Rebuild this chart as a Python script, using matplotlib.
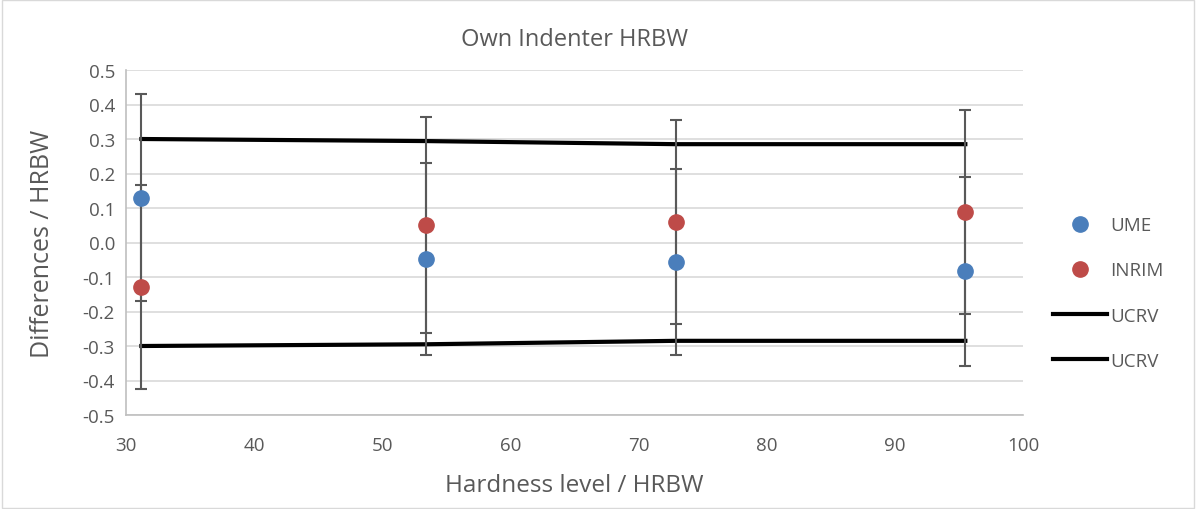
import matplotlib
matplotlib.use("Agg")
import matplotlib.pyplot as plt
from matplotlib.lines import Line2D

plt.rcParams['font.family'] = ['Open Sans', 'DejaVu Sans']

hardness = [31.2, 53.4, 72.9, 95.5]
ume = [0.129, -0.048, -0.057, -0.084]
ume_err = [0.30, 0.278, 0.27, 0.275]
inrim = [-0.129, 0.052, 0.060, 0.088]
inrim_err = [0.295, 0.313, 0.295, 0.295]
ucrv_upper = [0.30, 0.294, 0.285, 0.285]
ucrv_lower = [-0.30, -0.295, -0.285, -0.285]

W, H = 1196, 510
fig = plt.figure(figsize=(W/100, H/100), dpi=100)
ax = fig.add_axes([126/W, 1-416/H, (1023-126)/W, (416-71)/H])

txt = '#595959'
ax.plot(hardness, ucrv_upper, color='black', lw=3, zorder=2)
ax.plot(hardness, ucrv_lower, color='black', lw=3, zorder=2)
ax.errorbar(hardness, ume, yerr=ume_err, fmt='none', ecolor='#595959', elinewidth=1.5, capsize=4.2, capthick=1.5, zorder=3)
ax.errorbar(hardness, inrim, yerr=inrim_err, fmt='none', ecolor='#595959', elinewidth=1.5, capsize=4.2, capthick=1.5, zorder=3)
ax.plot(hardness, ume, 'o', color='#4a7ebb', ms=11, zorder=4)
ax.plot(hardness, inrim, 'o', color='#be4b48', ms=11, zorder=4)

ax.set_xlim(30, 100)
ax.set_ylim(-0.5, 0.5)
ax.set_xticks(range(30, 101, 10))
ax.set_yticks([i/10 for i in range(-5, 6)])
ax.set_yticklabels([f"{i/10:.1f}" for i in range(-5, 6)])
ax.yaxis.grid(True, color='#d9d9d9', lw=1.2)
ax.set_axisbelow(True)
for s in ['top', 'right']:
    ax.spines[s].set_visible(False)
for s in ['left', 'bottom']:
    ax.spines[s].set_color('#bfbfbf')
    ax.spines[s].set_linewidth(1.2)
ax.tick_params(axis='both', length=0, labelsize=13.5, colors=txt, pad=8)
ax.tick_params(axis='x', pad=15)

ax.set_title('Own Indenter HRBW', fontsize=17, color=txt, pad=18)
ax.set_xlabel('Hardness level / HRBW', fontsize=17.5, color=txt, labelpad=14)
ax.set_ylabel('Differences / HRBW', fontsize=18, color=txt, labelpad=20)

handles = [
    Line2D([], [], marker='o', ls='none', color='#4a7ebb', ms=11),
    Line2D([], [], marker='o', ls='none', color='#be4b48', ms=11),
    Line2D([], [], color='black', lw=3),
    Line2D([], [], color='black', lw=3),
]
leg = fig.legend(handles, ['UME', 'INRIM', 'UCRV', 'UCRV'], loc='center left',
                 bbox_to_anchor=(1036/W, 1-294/H), frameon=False, fontsize=13.5,
                 labelcolor=txt, handlelength=2.9, labelspacing=1.45, handletextpad=0.15)

fig.patches.append(plt.Rectangle((0.002, 0.002), 0.996, 0.996, transform=fig.transFigure,
                                 fill=False, edgecolor='#d9d9d9', lw=1))
fig.savefig('out.png', dpi=100)
